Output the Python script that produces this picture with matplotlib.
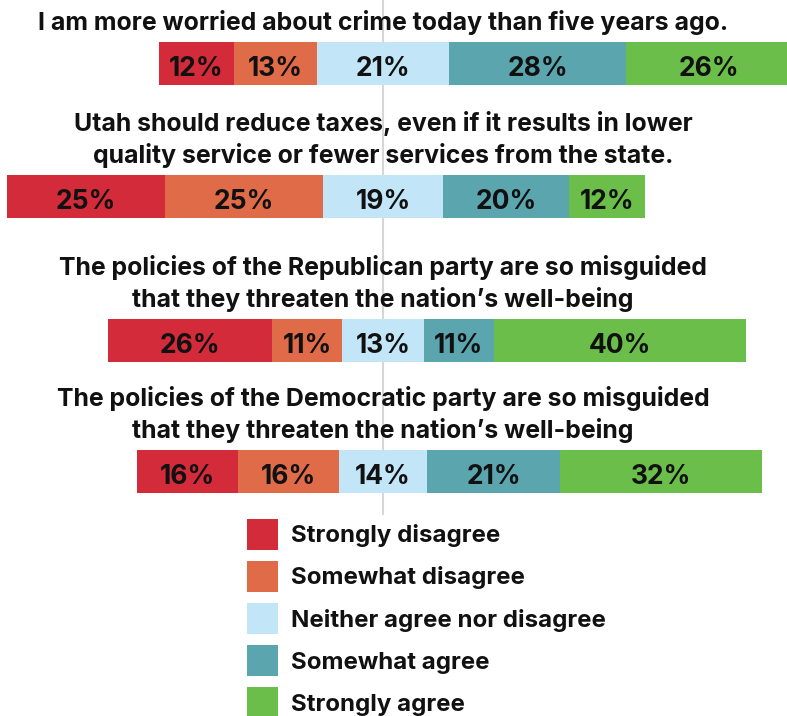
import matplotlib
matplotlib.use("Agg")
import matplotlib.pyplot as plt
from matplotlib.patches import Patch

# 问题文字
questions = [
    "I am more worried about crime today than five years ago.",
    "Utah should reduce taxes, even if it results in lower\nquality service or fewer services from the state.",
    "The policies of the Republican party are so misguided\nthat they threaten the nation\u2019s well-being",
    "The policies of the Democratic party are so misguided\nthat they threaten the nation\u2019s well-being",
]

categories = ["Strongly disagree", "Somewhat disagree", "Neither agree nor disagree",
              "Somewhat agree", "Strongly agree"]

strongly_disagree = [12, 25, 26, 16]
somewhat_disagree = [13, 25, 11, 16]
neither = [21, 19, 13, 14]
somewhat_agree = [28, 20, 11, 21]
strongly_agree = [26, 12, 40, 32]

colors = ["#D32B3A", "#E06B48", "#C2E6F8", "#5BA5AF", "#6CBE4A"]

FONT = ["Inter", "DejaVu Sans"]
TXT = "#111111"

fig = plt.figure(figsize=(7.87, 7.16), dpi=100)
ax = fig.add_axes([0, 0, 1, 1])
px = 6.32  # 每个百分点的像素宽度
ax.set_xlim(-383 / px, (787 - 383) / px)
ax.set_ylim(716, 0)
ax.axis("off")

bar_y = [63, 196, 340, 471]
bar_h = 43

ax.vlines(0, 0, 515, color="#d6d6d6", lw=1.5, zorder=1)

series = [strongly_disagree, somewhat_disagree, neither, somewhat_agree, strongly_agree]
for i, y in enumerate(bar_y):
    left = -(strongly_disagree[i] + somewhat_disagree[i] + neither[i] / 2)
    for vals, c in zip(series, colors):
        v = vals[i]
        ax.barh(y, v, left=left, height=bar_h, color=c, zorder=2)
        ax.text(left + v / 2, y + 13, f"{v}%", ha="center", va="baseline",
                fontsize=19, fontweight="bold", family=FONT, color=TXT, zorder=3)
        left += v

    # 标题，逐行放置
    lines = questions[i].split("\n")
    top = y - bar_h / 2
    for k, line in enumerate(reversed(lines)):
        ax.text(0, top - 11.5 - k * 32, line, ha="center", va="baseline",
                fontsize=17.9, fontweight="bold", family=FONT, color=TXT)

fs = 17.3
handles = [Patch(facecolor=c, edgecolor="none") for c in colors]
leg = fig.legend(handles, categories, loc="upper left",
                 bbox_to_anchor=(247 / 787, 1 - 519 / 716), bbox_transform=fig.transFigure,
                 frameon=False, borderpad=0, borderaxespad=0,
                 handlelength=31 / (fs * 100 / 72), handleheight=1.61, handletextpad=0.55,
                 labelspacing=0.46, prop={"family": FONT, "weight": "bold", "size": fs})
for t in leg.get_texts():
    t.set_color(TXT)

plt.savefig("out.png", dpi=100)
plt.close()
